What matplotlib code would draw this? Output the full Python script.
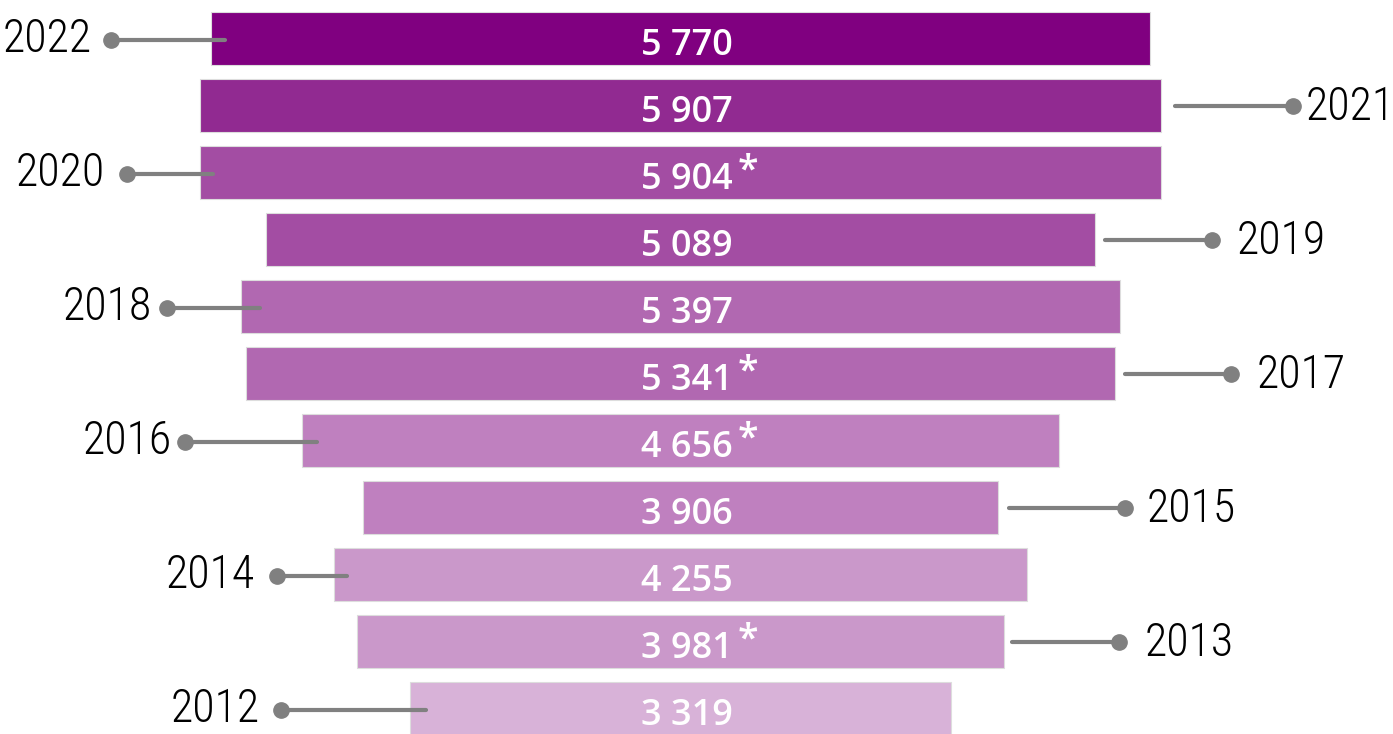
import matplotlib
matplotlib.use("Agg")
import matplotlib.pyplot as plt
from matplotlib import font_manager as fm

years = ["2022", "2021", "2020", "2019", "2018", "2017", "2016", "2015", "2014", "2013", "2012"]
values = [5770, 5907, 5904, 5089, 5397, 5341, 4656, 3906, 4255, 3981, 3319]
value_labels = ["5 770", "5 907", "5 904", "5 089", "5 397", "5 341", "4 656", "3 906", "4 255", "3 981", "3 319"]
asterisk = [False, False, True, False, False, True, True, False, False, True, False]
colors = ["#800080", "#912A91", "#A34DA3", "#A34DA3", "#B168B1", "#B168B1",
          "#BF80BF", "#BF80BF", "#CA98CA", "#CA98CA", "#D8B2D8"]
label_side = ["L", "R", "L", "R", "L", "R", "L", "R", "L", "R", "L"]
# connector layout (pixels): inner offset from bar edge, length from bar edge, text gap from dot
conn_inner = [14, 14, 13, 10, 19, 10, 15, 11, 13, 8, 16]
conn_len = [100, 132, 73, 117, 74, 116, 117, 127, 57, 115, 129]
text_gap = [19, 12, 22, 25, 15, 26, 13, 21, 22, 25, 22]

W, H, DPI = 1393, 734, 100
K = 0.16275          # px per unit
CX = 680.5           # center pixel
PITCH = 67.0
ROW0 = 38.5

fig = plt.figure(figsize=(W / DPI, H / DPI), dpi=DPI)
ax = fig.add_axes([0, 0, 1, 1])
ax.set_xlim(-CX / K, (W - CX) / K)
ax.set_ylim((H - ROW0) / PITCH, -ROW0 / PITCH)
ax.axis("off")

px = lambda p: p / K        # px -> x units
py = lambda p: p / PITCH    # px -> row units

avail = {f.name for f in fm.fontManager.ttflist}
year_font = [f for f in ["Liberation Sans Narrow", "Roboto Condensed", "Liberation Sans"] if f in avail][:1] + ["DejaVu Sans"]
val_font = ["Open Sans", "DejaVu Sans"]

ypos = list(range(len(years)))
ax.barh(ypos, values, left=[-v / 2 for v in values], height=53 / PITCH,
        color=colors, edgecolor="#DDDDDD", linewidth=0.8, zorder=2)

for i, (yr, v, lab, ast, side) in enumerate(zip(years, values, value_labels, asterisk, label_side)):
    ax.text(px(6), i + py(16.5), lab, ha="center", va="baseline", color="white",
            fontsize=26, fontweight="semibold", family=val_font, zorder=4)
    if ast:
        ax.text(px(57), i + py(9), "*", ha="left", va="baseline", color="white",
                fontsize=27, fontweight="semibold", family=val_font, zorder=4)
    half = v / 2
    if side == "L":
        x_in = -half + px(conn_inner[i])
        x_dot = -half - px(conn_len[i])
        ax.plot([x_dot, x_in], [i + py(1.5), i + py(1.5)], color="#808080", lw=3, solid_capstyle="round", zorder=3)
        ax.plot([x_dot], [i + py(1.5)], "o", color="#808080", ms=11, zorder=3)
        ax.text(x_dot - px(text_gap[i]), i + py(1), yr, ha="right", va="center",
                fontsize=33, fontweight="light", family=year_font, color="black")
    else:
        x_in = half + px(conn_inner[i])
        x_dot = half + px(conn_len[i])
        ax.plot([x_in, x_dot], [i, i], color="#808080", lw=3, solid_capstyle="round", zorder=3)
        ax.plot([x_dot], [i], "o", color="#808080", ms=11, zorder=3)
        ax.text(x_dot + px(text_gap[i]), i + py(2), yr, ha="left", va="center",
                fontsize=33, fontweight="light", family=year_font, color="black")

fig.savefig("out.png", dpi=DPI)
